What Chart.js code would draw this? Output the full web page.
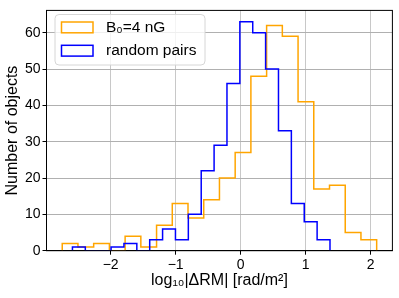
<!DOCTYPE html>
<html>
<head>
<meta charset="utf-8">
<script src="https://cdn.jsdelivr.net/npm/chart.js@4"></script>
<style>
  html, body { margin: 0; padding: 0; background: #fff; }
  #wrap { width: 399px; height: 298px; }
</style>
</head>
<body>
<div id="wrap"><canvas id="hist" width="399" height="298"></canvas></div>
<script>
// Histogram counts (20 bins each)
const fieldCounts = [2, 1, 2, 0, 4, 1, 7, 13, 9, 14, 20, 27, 48, 62, 59, 41, 17, 18, 5, 3];
const randomCounts = [1, 0, 0, 1, 2, 0, 3, 6, 3, 10, 22, 29, 46, 63, 60, 50, 33, 13, 8, 3];

// Bin layout of each histogram: first edge and bin width
const fieldBins = { start: -2.745, width: 0.24185 };
const randomBins = { start: -2.588, width: 0.1981 };

const xTicks = [-2, -1, 0, 1, 2];
const yTicks = [0, 10, 20, 30, 40, 50, 60];

const seriesLabels = ['B₀=4 nG', 'random pairs'];
const seriesColors = ['#ffa500', '#0000ff'];

const FONT = "'Liberation Sans', Arial, Helvetica, sans-serif";

// outline of a step histogram: baseline -> bars -> baseline
function stepPoints(counts, bins) {
    const pts = [{ x: bins.start, y: 0 }];
    counts.forEach((c, i) => pts.push({ x: bins.start + (i + 1) * bins.width, y: c }));
    pts.push({ x: bins.start + counts.length * bins.width, y: 0 });
    return pts;
}

function fmtTick(v) {
    return v < 0 ? '\u2212' + Math.abs(v) : String(v);
}

// top/right spines
const framePlugin = {
    id: 'frame',
    afterDraw(chart) {
        const { ctx, chartArea: a } = chart;
        ctx.save();
        ctx.strokeStyle = '#000';
        ctx.lineWidth = 1;
        ctx.strokeRect(a.left, a.top, a.right - a.left, a.bottom - a.top);
        ctx.restore();
    }
};

// matplotlib-style legend in the upper left corner
const legendPlugin = {
    id: 'boxLegend',
    afterDraw(chart) {
        const ctx = chart.ctx;
        const x = 55, y = 14.5, w = 150, h = 50.5, r = 4;
        ctx.save();
        ctx.beginPath();
        ctx.moveTo(x + r, y);
        ctx.arcTo(x + w, y, x + w, y + h, r);
        ctx.arcTo(x + w, y + h, x, y + h, r);
        ctx.arcTo(x, y + h, x, y, r);
        ctx.arcTo(x, y, x + w, y, r);
        ctx.closePath();
        ctx.fillStyle = 'rgba(255,255,255,0.8)';
        ctx.fill();
        ctx.strokeStyle = '#d6d6d6';
        ctx.lineWidth = 1;
        ctx.stroke();

        ctx.font = '15.5px ' + FONT;
        ctx.textBaseline = 'middle';
        ctx.fillStyle = '#000';
        seriesLabels.forEach((label, i) => {
            const ry = 22 + i * 23.3;
            ctx.strokeStyle = seriesColors[i];
            ctx.lineWidth = 1.5;
            ctx.strokeRect(61.5, ry, 31.5, 10.8);
            ctx.fillText(label, 106, ry + 5.6);
        });
        ctx.restore();
    }
};

new Chart(document.getElementById('hist'), {
    type: 'line',
    data: {
        datasets: [{
            label: seriesLabels[0],
            data: stepPoints(fieldCounts, fieldBins),
            borderColor: seriesColors[0],
            order: 1
        }, {
            label: seriesLabels[1],
            data: stepPoints(randomCounts, randomBins),
            borderColor: seriesColors[1],
            order: 0
        }]
    },
    options: {
        responsive: false,
        animation: false,
        layout: { padding: { top: 6, right: 6.6, left: 0, bottom: 0 } },
        elements: {
            line: { stepped: 'after', borderWidth: 1.5, fill: false, tension: 0 },
            point: { radius: 0 }
        },
        plugins: {
            legend: { display: false },
            tooltip: { enabled: false }
        },
        scales: {
            x: {
                type: 'linear',
                min: -2.987,
                max: 2.334,
                afterBuildTicks: s => { s.ticks = xTicks.map(v => ({ value: v })); },
                afterFit: s => { s.height = 47.3; },
                grid: { color: '#c8c8c8', lineWidth: 1, tickColor: '#000', tickLength: 4 },
                border: { color: '#000', width: 1 },
                ticks: { color: '#000', font: { family: FONT, size: 14 }, padding: 2, maxRotation: 0, callback: fmtTick },
                title: {
                    display: true,
                    text: 'log₁₀|ΔRM| [rad/m²]',
                    color: '#000',
                    font: { family: FONT, size: 16 },
                    padding: { top: 0, bottom: 8 }
                }
            },
            y: {
                type: 'linear',
                min: 0,
                max: 66.15,
                afterBuildTicks: s => { s.ticks = yTicks.map(v => ({ value: v })); },
                afterFit: s => { s.width = 46.5; },
                grid: { color: '#b0b0b0', lineWidth: 1, tickColor: '#000', tickLength: 4 },
                border: { color: '#000', width: 1 },
                ticks: { color: '#000', font: { family: FONT, size: 14 }, padding: 2, callback: fmtTick },
                title: {
                    display: true,
                    text: 'Number of objects',
                    color: '#000',
                    font: { family: FONT, size: 16 },
                    padding: { top: 3, bottom: 0 }
                }
            }
        }
    },
    plugins: [framePlugin, legendPlugin]
});
</script>
</body>
</html>
